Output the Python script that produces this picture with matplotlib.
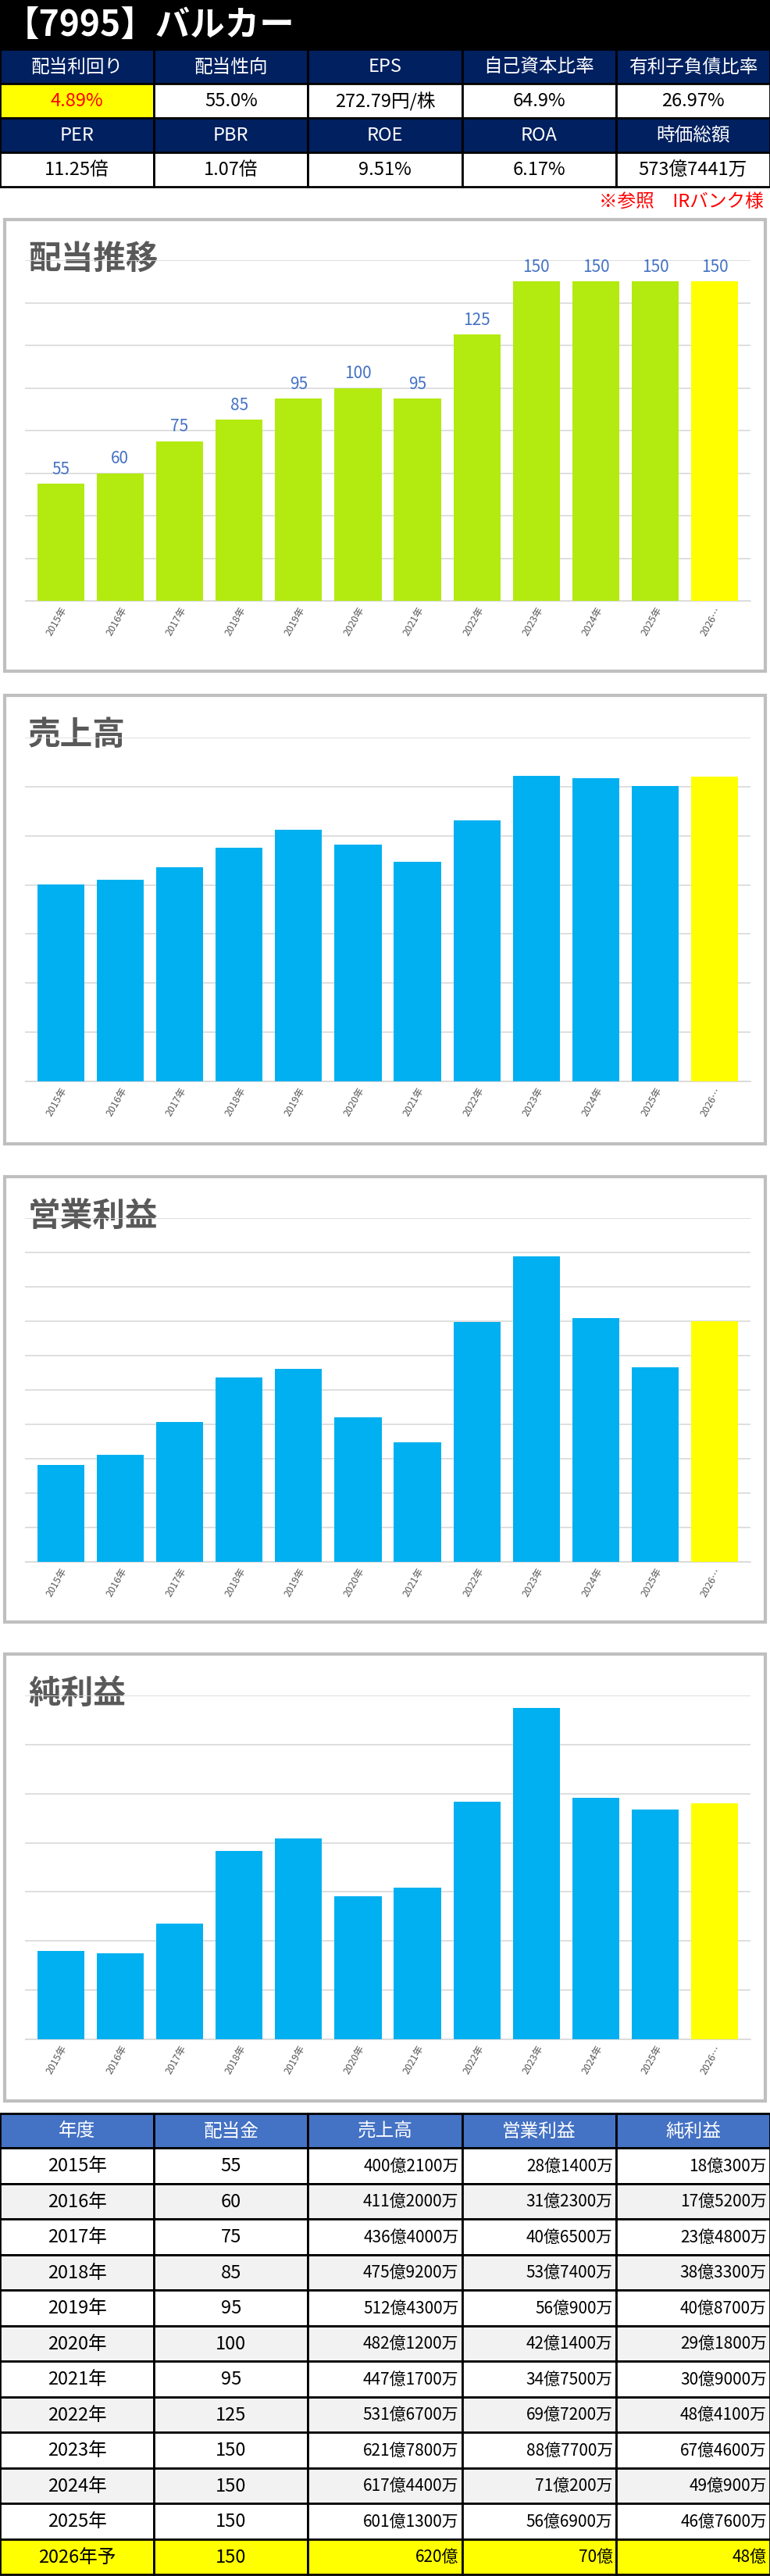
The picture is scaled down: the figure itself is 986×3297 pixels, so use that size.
import matplotlib
matplotlib.use("Agg")
import matplotlib.pyplot as plt
from matplotlib.patches import Rectangle

plt.rcParams["font.family"] = ["Noto Sans CJK JP", "DejaVu Sans"]

W, H = 986, 3298
title = "【7995】バルカー"
metric_h1 = ["配当利回り", "配当性向", "EPS", "自己資本比率", "有利子負債比率"]
metric_v1 = ["4.89%", "55.0%", "272.79円/株", "64.9%", "26.97%"]
metric_h2 = ["PER", "PBR", "ROE", "ROA", "時価総額"]
metric_v2 = ["11.25倍", "1.07倍", "9.51%", "6.17%", "573億7441万"]
note = "※参照　IRバンク様"

years = ["2015年", "2016年", "2017年", "2018年", "2019年", "2020年", "2021年",
         "2022年", "2023年", "2024年", "2025年", "2026年予"]
xlabels = ["2015年", "2016年", "2017年", "2018年", "2019年", "2020年", "2021年",
           "2022年", "2023年", "2024年", "2025年", "2026…"]
dividend = [55, 60, 75, 85, 95, 100, 95, 125, 150, 150, 150, 150]
sales = [400.21, 411.20, 436.40, 475.92, 512.43, 482.12, 447.17, 531.67, 621.78, 617.44, 601.13, 620]
op_income = [28.14, 31.23, 40.65, 53.74, 56.09, 42.14, 34.75, 69.72, 88.77, 71.02, 56.69, 70]
net_income = [18.03, 17.52, 23.48, 38.33, 40.87, 29.18, 30.90, 48.41, 67.46, 49.09, 46.76, 48]

tbl_head = ["年度", "配当金", "売上高", "営業利益", "純利益"]
tbl_div = ["55", "60", "75", "85", "95", "100", "95", "125", "150", "150", "150", "150"]
tbl_sales = ["400億2100万", "411億2000万", "436億4000万", "475億9200万", "512億4300万", "482億1200万",
             "447億1700万", "531億6700万", "621億7800万", "617億4400万", "601億1300万", "620億"]
tbl_op = ["28億1400万", "31億2300万", "40億6500万", "53億7400万", "56億900万", "42億1400万",
          "34億7500万", "69億7200万", "88億7700万", "71億200万", "56億6900万", "70億"]
tbl_net = ["18億300万", "17億5200万", "23億4800万", "38億3300万", "40億8700万", "29億1800万",
           "30億9000万", "48億4100万", "67億4600万", "49億900万", "46億7600万", "48億"]

fig = plt.figure(figsize=(W / 100, H / 100), dpi=100)
bg = fig.add_axes([0, 0, 1, 1])
bg.set_xlim(0, W); bg.set_ylim(H, 0); bg.axis("off")

def cell(x, y, w, h, fc, txt, color, fs, ha="center", lw=2):
    bg.add_patch(Rectangle((x, y), w, h, facecolor=fc, edgecolor="black", lw=lw))
    if ha == "center":
        tx = x + w / 2
    else:
        tx = x + w - 4
    bg.text(tx, y + h / 2, txt, color=color, fontsize=fs, ha=ha, va="center")

# header
bg.add_patch(Rectangle((0, 0), W, 64, facecolor="black"))
bg.text(6, 34, title, color="white", fontsize=32, va="center", ha="left", fontweight="bold")
cw = W / 5
navy = "#002060"
for i in range(5):
    cell(i * cw, 64, cw, 44, navy, metric_h1[i], "white", 17)
    fc = "#FFFF00" if i == 0 else "white"
    col = "#FF0000" if i == 0 else "black"
    cell(i * cw, 108, cw, 44, fc, metric_v1[i], col, 17)
    cell(i * cw, 152, cw, 44, navy, metric_h2[i], "white", 17)
    cell(i * cw, 196, cw, 44, "white", metric_v2[i], "black", 17)
bg.text(978, 258, note, color="#FF0000", fontsize=17, ha="right", va="center")

def chart(top, bottom, plot_top, base, vals, vmax, step, name, labels=False):
    bg.add_patch(Rectangle((6, top), 974, bottom - top, facecolor="white",
                           edgecolor="#BFBFBF", lw=3))
    ax = fig.add_axes([32 / W, 1 - base / H, (961 - 32) / W, (base - plot_top) / H])
    x = list(range(len(vals)))
    colors = ["#00B0F0"] * (len(vals) - 1) + ["#FFFF00"]
    if labels:
        colors = ["#B3EA10"] * (len(vals) - 1) + ["#FFFF00"]
    bars = ax.bar(x, vals, width=0.79, color=colors, zorder=3)
    ax.set_ylim(0, vmax)
    ax.set_xlim(-0.6, len(vals) - 0.4)
    ax.set_yticks([i * step for i in range(int(vmax / step) + 1)])
    ax.yaxis.grid(True, color="#D9D9D9", lw=1.2, zorder=0)
    ax.tick_params(axis="y", length=0, labelleft=False)
    ax.tick_params(axis="x", length=0)
    ax.set_xticks(x)
    ax.set_xticklabels(xlabels, rotation=60, ha="right", rotation_mode="anchor",
                       fontsize=9, color="#595959")
    for s in ["top", "right", "left"]:
        ax.spines[s].set_visible(False)
    ax.spines["bottom"].set_color("#D9D9D9")
    ax.patch.set_alpha(0)
    if labels:
        for b, v in zip(bars, vals):
            ax.annotate(str(v), (b.get_x() + b.get_width() / 2, v), xytext=(0, 6),
                        textcoords="offset points", ha="center", va="bottom",
                        fontsize=15, color="#4472C4")
    bg.text(36, top + 50, name, fontsize=30, color="#595959", va="center", ha="left",
            fontweight="bold")

chart(282, 860, 334, 770, dividend, 160, 20, "配当推移", labels=True)
chart(891, 1465, 945, 1385, sales, 700, 100, "売上高")
chart(1507, 2077, 1560, 2000, op_income, 100, 10, "営業利益")
chart(2118, 2690, 2171, 2611, net_income, 70, 10, "純利益")

# table
ty = 2706
hh = 44
rh = 45.5
for i in range(5):
    bg.add_patch(Rectangle((i * cw, ty), cw, hh, facecolor="#4472C4", edgecolor="black", lw=2))
    bg.text(i * cw + cw / 2, ty + hh / 2, tbl_head[i], color="white", fontsize=17,
            ha="center", va="center")
for r in range(len(years)):
    y = ty + hh + r * rh
    if r == len(years) - 1:
        fc = "#FFFF00"
    else:
        fc = "white" if r % 2 == 0 else "#F2F2F2"
    cols = [years[r], tbl_div[r], tbl_sales[r], tbl_op[r], tbl_net[r]]
    for i in range(5):
        ha = "center" if i < 2 else "right"
        cell(i * cw, y, cw, rh, fc, cols[i], "black", 17 if i < 2 else 15, ha=ha)

fig.savefig("out.png", dpi=100)
